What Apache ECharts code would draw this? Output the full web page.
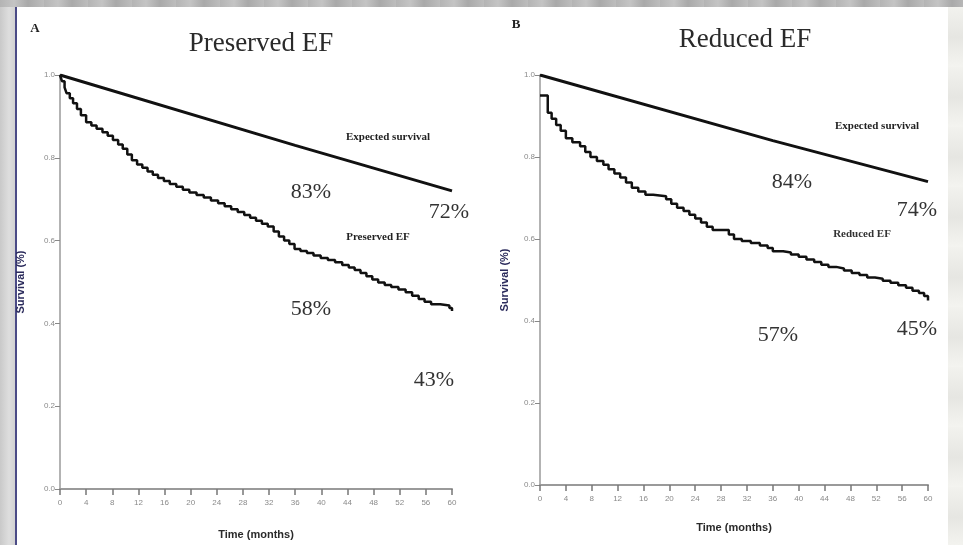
<!DOCTYPE html>
<html>
<head>
<meta charset="utf-8">
<script src="https://cdn.jsdelivr.net/npm/echarts@6/dist/echarts.min.js"></script>
<style>
  html, body { margin: 0; padding: 0; width: 963px; height: 545px; overflow: hidden; }
  body {
    position: relative;
    background: repeating-linear-gradient(90deg, #b4b4b4 0px, #c4c4c4 14px, #a9a9a9 28px, #bdbdbd 44px);
  }
  #leftEdge { position: absolute; left: 0; top: 7px; width: 15px; height: 538px;
    background: linear-gradient(90deg, #c9c9c9, #dedede 60%, #d2d2d2); }
  #rightEdge { position: absolute; left: 948px; top: 7px; width: 15px; height: 538px;
    background: repeating-linear-gradient(180deg, #f2f2ee 0px, #e6e6e2 30px, #f4f4f0 60px); }
  #sheet { position: absolute; left: 15px; top: 7px; width: 933px; height: 538px;
    background: #ffffff; border-left: 2px solid #4b4b86; box-sizing: border-box; }
  #chart { position: absolute; left: 0; top: 0; width: 963px; height: 545px; }
</style>
</head>
<body>
<div id="leftEdge"></div>
<div id="rightEdge"></div>
<div id="sheet"></div>
<div id="chart"></div>
<script>
// Time axis ticks (months) and survival ticks
const monthTicks = [0, 4, 8, 12, 16, 20, 24, 28, 32, 36, 40, 44, 48, 52, 56, 60];
const survivalTicks = [0.0, 0.2, 0.4, 0.6, 0.8, 1.0];

// Panel A: preserved ejection fraction
const presExpectedTimes = [0, 36, 60];
const presExpected = [1.0, 0.83, 0.72];
const presKmTimes = [0, 0.3, 0.7, 1.0, 1.5, 2.0, 2.6, 3.2, 4.0, 4.8, 5.6, 6.5, 7.3, 8.1, 8.9, 9.6,
  10.3, 11.0, 11.8, 12.6, 13.4, 14.2, 15.0, 15.9, 16.8, 17.8, 18.8, 19.8, 20.9, 22.0, 23.1, 24.2,
  25.2, 26.2, 27.2, 28.2, 29.1, 30.0, 30.9, 31.8, 32.7, 33.5, 34.3, 35.1, 35.9, 36.8, 37.8, 38.8,
  39.9, 41.0, 42.1, 43.2, 44.2, 45.1, 46.0, 46.9, 47.8, 48.7, 49.7, 50.7, 51.8, 52.9, 53.9, 54.9,
  55.8, 56.8, 58.2, 59.6, 60];
const presKm = [1.000, 0.985, 0.970, 0.956, 0.944, 0.932, 0.918, 0.903, 0.886, 0.878, 0.870, 0.862,
  0.853, 0.843, 0.832, 0.822, 0.808, 0.794, 0.784, 0.776, 0.767, 0.759, 0.751, 0.744, 0.737, 0.730,
  0.723, 0.716, 0.710, 0.704, 0.697, 0.690, 0.683, 0.676, 0.669, 0.662, 0.655, 0.648, 0.641, 0.634,
  0.622, 0.610, 0.600, 0.592, 0.580, 0.575, 0.570, 0.564, 0.558, 0.553, 0.548, 0.541, 0.535, 0.529,
  0.522, 0.514, 0.506, 0.499, 0.493, 0.488, 0.482, 0.475, 0.467, 0.459, 0.452, 0.446, 0.443, 0.437,
  0.430];

// Panel B: reduced ejection fraction
const redExpectedTimes = [0, 36, 60];
const redExpected = [1.0, 0.84, 0.74];
const redKmTimes = [0, 1.2, 1.8, 2.5, 3.2, 4.0, 5.0, 6.2, 7.0, 7.8, 8.8, 9.8, 10.6, 11.5, 12.4, 13.3,
  14.2, 15.2, 16.3, 17.5, 19.5, 20.3, 21.2, 22.2, 23.1, 24.0, 24.9, 25.8, 26.7, 29.2, 30.0, 31.2,
  32.6, 34.0, 35.2, 36.0, 37.6, 38.8, 40.0, 41.2, 42.4, 43.5, 44.6, 45.8, 47.0, 48.2, 49.4, 50.6,
  51.8, 53.0, 54.2, 55.4, 56.6, 57.6, 58.6, 59.4, 60];
const redKm = [0.950, 0.908, 0.893, 0.878, 0.864, 0.846, 0.836, 0.826, 0.812, 0.800, 0.790, 0.781,
  0.770, 0.760, 0.750, 0.738, 0.725, 0.716, 0.708, 0.704, 0.697, 0.686, 0.676, 0.668, 0.659, 0.650,
  0.640, 0.630, 0.622, 0.611, 0.600, 0.595, 0.590, 0.584, 0.578, 0.570, 0.567, 0.562, 0.557, 0.550,
  0.544, 0.537, 0.532, 0.528, 0.523, 0.517, 0.512, 0.506, 0.503, 0.498, 0.493, 0.487, 0.481, 0.474,
  0.468, 0.461, 0.450];

// Survival read at 36 months and at the end of follow-up
const presAt36 = { expected: 0.83, observed: 0.58 };
const presAt60 = { expected: 0.72, observed: 0.43 };
const redAt36 = { expected: 0.84, observed: 0.57 };
const redAt60 = { expected: 0.74, observed: 0.45 };

const pct = v => Math.round(v * 100) + '%';
const zip = (xs, ys) => xs.map((x, i) => [x, ys[i]]);

const SERIF = '"Liberation Serif", "DejaVu Serif", serif';
const SANS = '"Liberation Sans", Arial, sans-serif';
const AXIS_GRAY = '#9a9a9a';

function xAxisFor(gridIndex, gap) {
  return {
    gridIndex, type: 'value', min: 0, max: 60, interval: 4,
    name: 'Time (months)', nameLocation: 'middle', nameGap: gap,
    nameTextStyle: { fontFamily: SANS, fontWeight: 'bold', fontSize: 11, color: '#2a2a2a' },
    axisLine: { lineStyle: { color: AXIS_GRAY, width: 2 } },
    axisTick: { show: true, length: 6, lineStyle: { color: '#777', width: 1.5 } },
    axisLabel: { fontSize: 8, color: '#8a8a8a', margin: 10, fontFamily: SANS,
      formatter: v => monthTicks.includes(v) ? String(v) : '' },
    splitLine: { show: false }
  };
}
function yAxisFor(gridIndex, gap) {
  return {
    gridIndex, type: 'value', min: 0, max: 1, interval: 0.2,
    name: 'Survival (%)', nameLocation: 'middle', nameGap: gap, nameRotate: 90,
    nameTextStyle: { fontFamily: SANS, fontWeight: 'bold', fontSize: 11, color: '#2b2b5c' },
    axisLine: { show: true, lineStyle: { color: AXIS_GRAY, width: 1.5 } },
    axisTick: { show: true, length: 5, lineStyle: { color: '#888', width: 1 } },
    axisLabel: { fontSize: 8, color: '#8a8a8a', margin: 5, fontFamily: SANS,
      formatter: v => survivalTicks.some(t => Math.abs(t - v) < 1e-9) ? v.toFixed(1) : '' },
    splitLine: { show: false }
  };
}
function curve(name, xi, data, width, step) {
  return {
    name, type: 'line', xAxisIndex: xi, yAxisIndex: xi, data,
    step: step ? 'end' : false, showSymbol: false, symbol: 'none', silent: true,
    lineStyle: { color: '#111', width }, z: 5
  };
}
function txt(x, y, text, size, extra) {
  return {
    type: 'text', x, y, silent: true,
    style: Object.assign({ text, fontFamily: SERIF, fontSize: size, fill: '#333',
      align: 'center', verticalAlign: 'middle' }, extra || {})
  };
}

const chart = echarts.init(document.getElementById('chart'), null, { renderer: 'canvas' });
chart.setOption({
  backgroundColor: 'transparent',
  animation: false,
  grid: [
    { left: 60, top: 75, width: 392, height: 415 },
    { left: 540, top: 75, width: 388, height: 410 }
  ],
  xAxis: [xAxisFor(0, 40), xAxisFor(1, 37)],
  yAxis: [yAxisFor(0, 34), yAxisFor(1, 30)],
  series: [
    curve('Expected survival', 0, zip(presExpectedTimes, presExpected), 3, false),
    curve('Preserved EF', 0, zip(presKmTimes, presKm), 2.5, true),
    curve('Expected survival', 1, zip(redExpectedTimes, redExpected), 3, false),
    curve('Reduced EF', 1, zip(redKmTimes, redKm), 2.5, true)
  ],
  graphic: [
    // panel letters and titles
    txt(35, 29, 'A', 13, { fontWeight: 'bold', fill: '#222' }),
    txt(516, 25, 'B', 13, { fontWeight: 'bold', fill: '#222' }),
    txt(261, 44, 'Preserved EF', 27, { fill: '#2a2a2a' }),
    txt(745, 40, 'Reduced EF', 27, { fill: '#2a2a2a' }),
    // curve labels
    txt(388, 137, 'Expected survival', 11, { fill: '#222', fontWeight: 'bold' }),
    txt(378, 237, 'Preserved EF', 11, { fill: '#222', fontWeight: 'bold' }),
    txt(877, 126, 'Expected survival', 11, { fill: '#222', fontWeight: 'bold' }),
    txt(862, 234, 'Reduced EF', 11, { fill: '#333', fontWeight: 'bold' }),
    // survival percentages
    txt(311, 192, pct(presAt36.expected), 22),
    txt(449, 212, pct(presAt60.expected), 22),
    txt(311, 309, pct(presAt36.observed), 22),
    txt(434, 380, pct(presAt60.observed), 22),
    txt(792, 182, pct(redAt36.expected), 22),
    txt(917, 210, pct(redAt60.expected), 22),
    txt(778, 335, pct(redAt36.observed), 22),
    txt(917, 329, pct(redAt60.observed), 22)
  ]
});
</script>
</body>
</html>
